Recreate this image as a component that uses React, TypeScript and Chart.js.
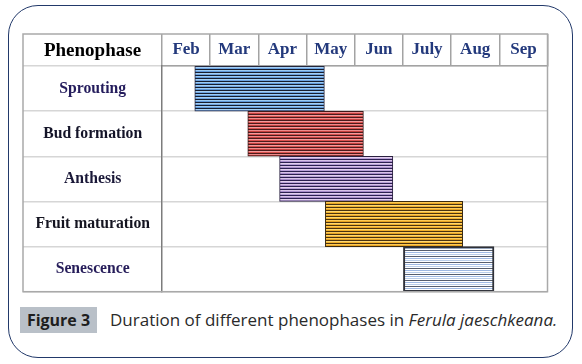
import React, { useEffect, useRef } from "react";
import { Chart, registerables } from "chart.js";

Chart.register(...registerables);

// ---- data ----
const months = ["Feb", "Mar", "Apr", "May", "Jun", "July", "Aug", "Sep"];
const monthCenters = [2.5, 3.5, 4.5, 5.5, 6.5, 7.5, 8.5, 9.5];
const axisMin = 2;
const axisMax = 10;
const phases = ["Sprouting", "Bud formation", "Anthesis", "Fruit maturation", "Senescence"];
const phaseStart = [2.68, 3.78, 4.44, 5.39, 7.01];
const phaseEnd = [5.37, 6.18, 6.79, 8.24, 8.89];
const headerTitle = "Phenophase";

// ---- styles ----
const stripeColors: string[][] = [
  ["#a6d0f5", "#6ea4e2", "#161d2e", "#9ccaf3", "#5f98da", "#161d2e"],
  ["#f59c9c", "#d9504d", "#4a1c1c", "#ee8b8b", "#c9403e", "#4a1c1c"],
  ["#e3d1ee", "#b9a0d8", "#2c2050", "#d8c2e8", "#a88cca", "#2c2050"],
  ["#ffd870", "#f0b02c", "#4a3210", "#fcc955", "#e8a421", "#4a3210"],
  ["#ffffff", "#b9cde9", "#ffffff", "#565e6e", "#ffffff", "#9fb9e3"],
];
const borderColors = ["#2a2a40", "#3a1a1a", "#2a2040", "#3a2a10", "#2e3038"];
const borderWidths = [1, 1, 1, 1, 2];
const labelColors = ["#241c5c", "#141428", "#1a1838", "#141420", "#261d5a"];

function makePattern(colors: string[]): CanvasPattern | string {
  const c = document.createElement("canvas");
  c.width = 4;
  c.height = colors.length;
  const g = c.getContext("2d");
  if (!g) return colors[0];
  colors.forEach((col, i) => {
    g.fillStyle = col;
    g.fillRect(0, i, 4, 1);
  });
  return g.createPattern(c, "repeat") || colors[0];
}

const tablePlugin = {
  id: "tableFrame",
  afterDraw(chart: any) {
    const { ctx, chartArea } = chart;
    const x = chart.scales.x;
    const y = chart.scales.y;
    ctx.save();
    ctx.strokeStyle = "#a9a9a9";
    ctx.lineWidth = 1.5;
    ctx.strokeRect(y.left, x.top, chartArea.right - y.left, chartArea.bottom - x.top);
    ctx.font = 'bold 19px "Liberation Serif"';
    ctx.fillStyle = "#000000";
    ctx.textAlign = "center";
    ctx.textBaseline = "middle";
    ctx.fillText(headerTitle, (y.left + y.right) / 2, (x.top + x.bottom) / 2 + 1);
    ctx.restore();
  },
};

function PhenoChart() {
  const ref = useRef<HTMLCanvasElement | null>(null);
  useEffect(() => {
    if (!ref.current) return;
    const patterns = stripeColors.map(makePattern);
    const chart = new Chart(ref.current, {
      type: "bar",
      data: {
        labels: phases,
        datasets: [
          {
            data: phases.map((_, i) => [phaseStart[i], phaseEnd[i]]) as any,
            backgroundColor: patterns as any,
            borderColor: borderColors,
            borderWidth: borderWidths,
            borderSkipped: false,
            barPercentage: 1,
            categoryPercentage: 1,
          },
        ],
      },
      options: {
        indexAxis: "y",
        animation: false,
        responsive: false,
        maintainAspectRatio: false,
        layout: { padding: { left: 3, top: 3, right: 2.5, bottom: 3.3 } },
        plugins: {
          legend: { display: false },
          tooltip: { enabled: false },
        },
        scales: {
          x: {
            type: "linear",
            position: "top",
            min: axisMin,
            max: axisMax,
            afterBuildTicks: (scale: any) => {
              scale.ticks = monthCenters.map((v) => ({ value: v }));
            },
            afterFit: (scale: any) => {
              scale.height = 32;
            },
            ticks: {
              autoSkip: false,
              maxRotation: 0,
              padding: -26,
              color: "#23397c",
              font: { family: "Liberation Serif", weight: "bold", size: 17 },
              callback: (_v: any, i: number) => months[i],
            },
            grid: {
              offset: true,
              drawOnChartArea: false,
              drawTicks: true,
              tickLength: 32,
              color: "#a3a3a3",
              lineWidth: 1.5,
            },
            border: { display: true, color: "#a3a3a3", width: 1.5 },
          },
          y: {
            type: "category",
            position: "left",
            afterFit: (scale: any) => {
              scale.width = 139;
            },
            ticks: {
              crossAlign: "center",
              padding: -127,
              color: (ctx: any) => labelColors[ctx.index] || "#141428",
              font: { family: "Liberation Serif", weight: "bold", size: 15.7 },
            },
            grid: {
              offset: true,
              drawOnChartArea: true,
              drawTicks: true,
              tickLength: 139,
              color: "#d6d6d6",
              lineWidth: 1.5,
            },
            border: { display: true, color: "#7c7c7c", width: 1.5 },
          },
        },
      },
      plugins: [tablePlugin],
    });
    return () => chart.destroy();
  }, []);
  return (
    <canvas
      ref={ref}
      width={530}
      height={264}
      style={{ position: "absolute", left: 20, top: 31, width: 530, height: 264 }}
    />
  );
}

export default function App() {
  return (
    <div
      style={{
        position: "absolute",
        left: 0,
        top: 0,
        width: 582,
        height: 364,
        background: "#ffffff",
        overflow: "hidden",
      }}
    >
      <div
        style={{
          position: "absolute",
          left: 8,
          top: 5,
          width: 563,
          height: 351,
          border: "1.5px solid #22396a",
          borderRadius: 30,
        }}
      />
      <PhenoChart />
      <div
        style={{
          position: "absolute",
          left: 20,
          top: 307,
          width: 77,
          height: 26,
          background: "#b9c0c8",
          fontFamily: '"Open Sans", sans-serif',
          fontWeight: 700,
          fontSize: 16,
          lineHeight: "26px",
          textAlign: "center",
          color: "#1e1e1e",
        }}
      >
        Figure 3
      </div>
      <div
        style={{
          position: "absolute",
          left: 110,
          top: 307,
          height: 26,
          whiteSpace: "nowrap",
          fontFamily: '"Open Sans", sans-serif',
          fontSize: 17,
          lineHeight: "26px",
          color: "#2a2a2a",
        }}
      >
        Duration of different phenophases in <i>Ferula jaeschkeana.</i>
      </div>
    </div>
  );
}
